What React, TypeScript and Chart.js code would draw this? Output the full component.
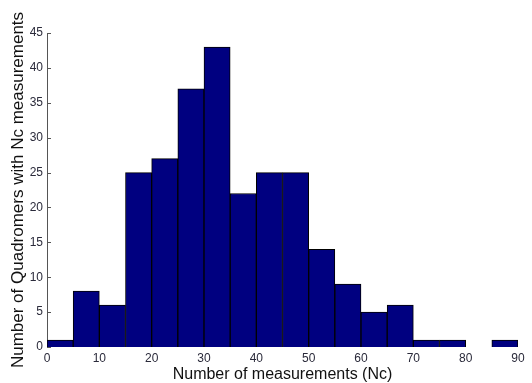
import React, { useEffect, useRef } from "react";
import { Chart, registerables } from "chart.js";

Chart.register(...registerables);

const binCenters = [2.5, 7.5, 12.5, 17.5, 22.5, 27.5, 32.5, 37.5, 42.5, 47.5, 52.5, 57.5, 62.5, 67.5, 72.5, 77.5, 82.5, 87.5];
const counts = [1, 8, 6, 25, 27, 37, 43, 22, 25, 25, 14, 9, 5, 6, 1, 1, 0, 1];
const xTitle = "Number of measurements (Nc)";
const yTitle = "Number of Quadromers with Nc measurements";

const tickColor = "#2a2a3a";

const inwardTicks = {
  id: "inwardTicks",
  beforeDatasetsDraw(chart: any) {
    const { ctx, scales } = chart;
    const y = scales.y;
    ctx.save();
    ctx.strokeStyle = "#555";
    ctx.lineWidth = 1;
    y.ticks.forEach((t: any) => {
      const py = Math.round(y.getPixelForValue(t.value)) + 0.5;
      ctx.beginPath();
      ctx.moveTo(y.right, py);
      ctx.lineTo(y.right + 4, py);
      ctx.stroke();
    });
    ctx.restore();
  },
};

export default function App() {
  const ref = useRef<HTMLCanvasElement>(null);
  useEffect(() => {
    document.body.style.margin = "0";
    const chart = new Chart(ref.current!, {
      type: "bar",
      data: {
        datasets: [
          {
            data: binCenters.map((x, i) => ({ x, y: counts[i] })),
            backgroundColor: "#000080",
            borderColor: "#000000",
            borderWidth: 1,
            barPercentage: 1,
            categoryPercentage: 1,
          },
        ],
      },
      options: {
        animation: false,
        responsive: false,
        maintainAspectRatio: false,
        layout: { padding: { top: 33, right: 14, left: 0, bottom: 0 } },
        plugins: { legend: { display: false }, tooltip: { enabled: false } },
        scales: {
          x: {
            type: "linear",
            min: 0,
            max: 90,
            offset: false,
            grid: { display: false, drawTicks: false, tickLength: 0 },
            border: { display: false },
            ticks: {
              stepSize: 10,
              color: tickColor,
              padding: 4,
              font: { family: "Liberation Sans, Arial", size: 12 },
              maxRotation: 0,
              autoSkip: false,
            },
            title: {
              display: true,
              text: xTitle,
              color: "#111",
              font: { family: "Liberation Sans, Arial", size: 16 },
              padding: { top: 0, bottom: -1 },
            },
            afterFit(scale: any) {
              scale.height = 36;
            },
          },
          y: {
            min: 0,
            max: 45,
            grid: { display: false, drawTicks: false, tickLength: 0 },
            border: { display: true, color: "#555", width: 1 },
            ticks: {
              stepSize: 5,
              color: tickColor,
              padding: 4,
              font: { family: "Liberation Sans, Arial", size: 12 },
            },
            title: {
              display: true,
              text: yTitle,
              color: "#111",
              font: { family: "Liberation Sans, Arial", size: 17 },
              padding: { top: 8, bottom: 0 },
            },
            afterFit(scale: any) {
              scale.width = 47;
            },
          },
        },
      },
      plugins: [inwardTicks],
    });
    return () => chart.destroy();
  }, []);
  return (
    <div style={{ width: 532, height: 383, background: "#fff" }}>
      <canvas ref={ref} width={532} height={383} style={{ display: "block" }} />
    </div>
  );
}
